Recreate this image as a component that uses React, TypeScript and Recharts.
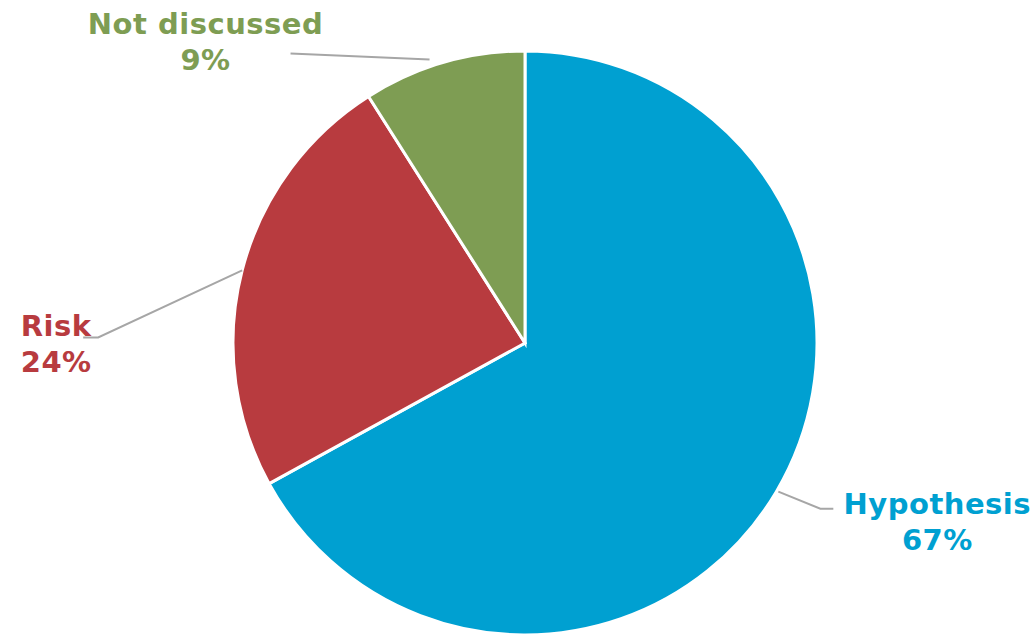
import { PieChart, Pie, Cell } from "recharts";

const names = ["Hypothesis", "Risk", "Not discussed"];
const shares = [67, 24, 9];
const colors = ["#00A0D1", "#B83B3F", "#7E9D53"];

// leader line start/bend/end + text anchor, relative to the slice edge point
const labelLayout = [
  { start: [2, 0], bend: [44, 17], end: [57, 17], text: [161, 22] },
  { start: [0, 0], bend: [-144, 67], end: [-159, 67], text: [-186, 66] },
  { start: [-14, -3], bend: [-153, -9], end: [-153, -9], text: [-238, -29] },
];

const data = names.map((name, i) => ({ name, value: shares[i] }));
const RADIAN = Math.PI / 180;

function renderLabel(props: any) {
  const { cx, cy, midAngle, outerRadius, index } = props;
  const ex = cx + outerRadius * Math.cos(-midAngle * RADIAN);
  const ey = cy + outerRadius * Math.sin(-midAngle * RADIAN);
  const l = labelLayout[index];
  const pts = [l.start, l.bend, l.end].map((p) => `${ex + p[0]},${ey + p[1]}`).join(" ");
  const tx = ex + l.text[0];
  const ty = ey + l.text[1];
  return (
    <g>
      <polyline points={pts} fill="none" stroke="#A6A6A6" strokeWidth={2} />
      <text
        x={tx}
        y={ty}
        textAnchor="middle"
        fill={colors[index]}
        fontFamily="DejaVu Sans"
        fontWeight="bold"
        fontSize={29}
        letterSpacing={0.5}
      >
        <tspan x={tx} dy={0}>{names[index]}</tspan>
        <tspan x={tx} dy={36}>{shares[index]}%</tspan>
      </text>
    </g>
  );
}

export default function App() {
  return (
    <div style={{ position: "absolute", left: 0, top: 0, background: "#fff" }}>
      <PieChart width={1035} height={634} margin={{ top: 0, right: 0, bottom: 0, left: 0 }}>
        <Pie
          data={data}
          dataKey="value"
          nameKey="name"
          cx={525}
          cy={343}
          outerRadius={292}
          startAngle={90}
          endAngle={-270}
          stroke="#fff"
          strokeWidth={3}
          label={renderLabel}
          labelLine={false}
          isAnimationActive={false}
        >
          {data.map((d, i) => (
            <Cell key={d.name} fill={colors[i]} />
          ))}
        </Pie>
      </PieChart>
    </div>
  );
}
